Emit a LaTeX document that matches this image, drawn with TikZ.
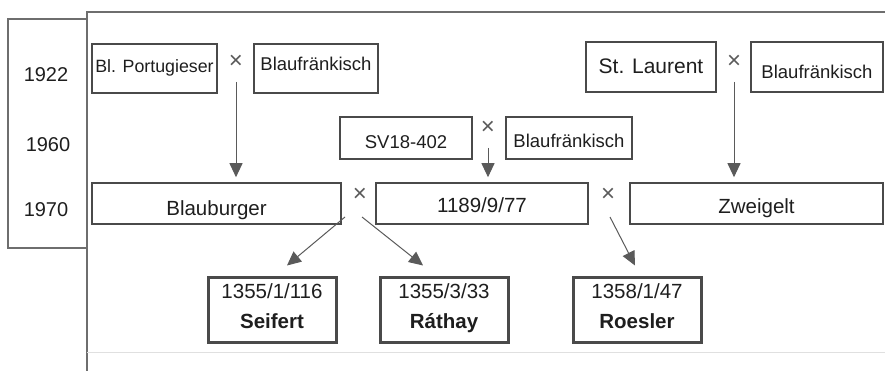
\documentclass[tikz,border=0pt]{standalone}
\usepackage{fontspec}
\setmainfont{Liberation Sans}
\usetikzlibrary{arrows.meta}
\definecolor{boxc}{HTML}{4A4A4A}
\definecolor{arrc}{HTML}{5A5A5A}
\definecolor{framec}{HTML}{6E6E6E}
\definecolor{txt}{HTML}{1E1E1E}
\begin{document}
\begin{tikzpicture}[x=1pt,y=-1pt,
  box/.style={draw=boxc,line width=1.6pt,inner sep=0pt,text=txt,text depth=0pt,font=\fontsize{20.5}{24}\selectfont},
  smallbox/.style={box,font=\fontsize{18.5}{22}\selectfont},
  bigbox/.style={draw=boxc,line width=3pt,inner sep=0pt,text=txt,align=center,
     minimum width=128pt,minimum height=65pt,text height=37pt,text depth=0pt,font=\fontsize{20.5}{30}\selectfont},
  cross/.style={inner sep=0pt,text=arrc,font=\fontsize{24}{26}\selectfont},
  year/.style={inner sep=0pt,text=txt,font=\fontsize{20}{24}\selectfont},
  arr/.style={draw=arrc,line width=1pt,-{Triangle[width=13pt,length=14pt]}}]
\useasboundingbox (0,0) rectangle (885,371);
% frames
\draw[draw=framec,line width=1.2pt] (87,371) -- (87,12) -- (885,12);
\draw[draw=black!12,line width=1pt] (87,352) -- (885,352);
\draw[draw=framec,line width=1.2pt] (87,19) -- (8,19) -- (8,248) -- (87,248);
% years
\node[year] (y1) at (46,75) {1922};
\node[year] (y2) at (48,145) {1960};
\node[year] (y3) at (46,210) {1970};
% 1922 row
\node[smallbox,font=\fontsize{17.8}{22}\selectfont,minimum width=125pt,minimum height=49pt,text height=8pt] (bp) at (154.5,68.5) {Bl. Portugieser};
\node[cross] (x1) at (236,62) {\texttimes};
\node[smallbox,minimum width=124pt,minimum height=49pt,text height=4pt] (bf1) at (316,68.5) {Blaufränkisch};
\node[box,font=\fontsize{21}{24}\selectfont,minimum width=130pt,minimum height=50pt,text height=14pt] (sl) at (651,67) {St. Laurent};
\node[cross] (x3) at (734,62) {\texttimes};
\node[smallbox,minimum width=132pt,minimum height=50pt,text height=24pt] (bf3) at (817,67) {Blaufränkisch};
% 1960 row
\node[smallbox,minimum width=132pt,minimum height=42pt,text height=22pt] (sv) at (406,138) {SV18-402};
\node[cross] (x2) at (488,128) {\texttimes};
\node[smallbox,minimum width=126pt,minimum height=42pt,text height=20pt] (bf2) at (569,138) {Blaufränkisch};
% 1970 row
\node[box,minimum width=249pt,minimum height=41pt,text height=23pt] (bb) at (216.5,203.5) {Blauburger};
\node[cross] (x4) at (360,195) {\texttimes};
\node[box,minimum width=212pt,minimum height=41pt,text height=18pt] (n1189) at (482,203.5) {1189/9/77};
\node[cross] (x5) at (608,195) {\texttimes};
\node[box,minimum width=253pt,minimum height=41pt,text height=21pt] (zw) at (756.5,203.5) {Zweigelt};
% offspring
\node[bigbox] (sei) at (272,309.5) {1355/1/116\\\textbf{Seifert}};
\node[bigbox] (rat) at (444,309.5) {1355/3/33\\\textbf{Ráthay}};
\node[bigbox] (roe) at (637,309.5) {1358/1/47\\\textbf{Roesler}};
% arrows
\draw[arr,shorten <=20pt,shorten >=5pt] (x1.center) -- (x1.center |- bb.north);
\draw[arr,shorten <=20pt,shorten >=5pt] (x2.center) -- (x2.center |- n1189.north);
\draw[arr,shorten <=20pt,shorten >=5pt] (x3.center) -- (x3.center |- zw.north);
\draw[arr] ([shift={(-15pt,-22pt)}]x4.center) -- ([xshift=15pt,yshift=10pt]sei.north);
\draw[arr] ([shift={(2pt,-22pt)}]x4.center) -- ([xshift=-21pt,yshift=10pt]rat.north);
\draw[arr] ([shift={(2pt,-22pt)}]x5.center) -- ([xshift=-2pt,yshift=10pt]roe.north);
\end{tikzpicture}
\end{document}
